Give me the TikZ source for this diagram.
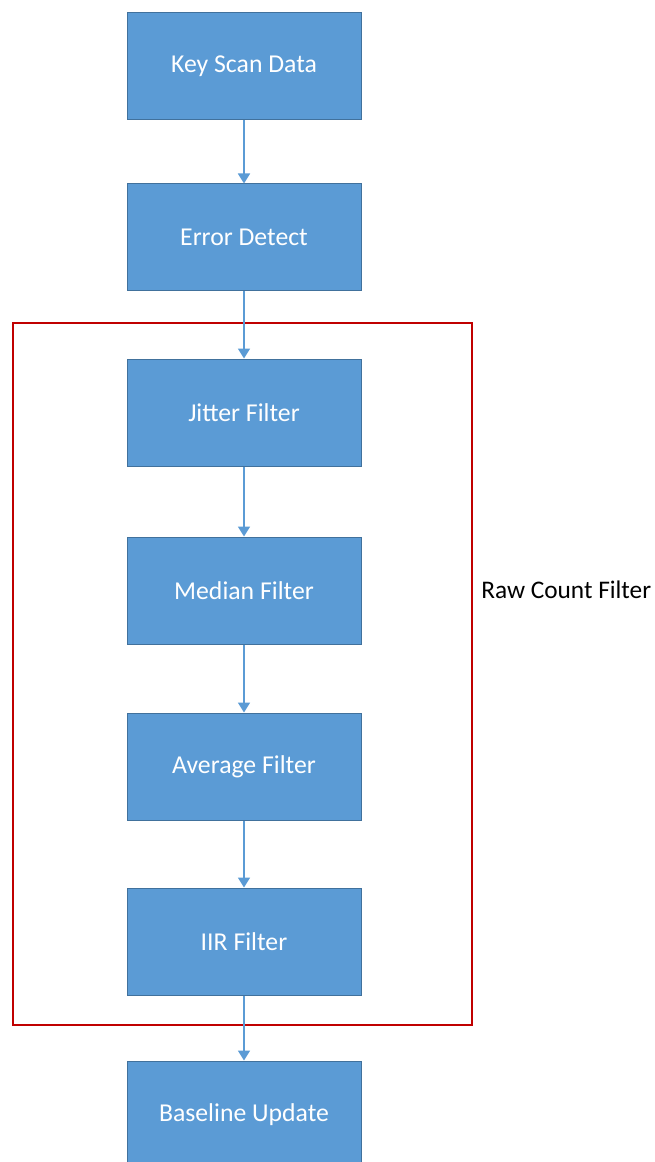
\documentclass[tikz,border=0pt]{standalone}
\usepackage{fontspec}
\setmainfont{Carlito}
\usetikzlibrary{arrows.meta}

\definecolor{boxblue}{HTML}{5B9BD5}
\definecolor{boxedge}{HTML}{41719C}
\definecolor{framered}{HTML}{C00000}

\tikzset{
  stage/.style={draw=boxedge, line width=.75pt, fill=boxblue, text=white,
    minimum width=175.5pt, minimum height=80.25pt, inner sep=0pt,
    font=\fontsize{19.3}{22}\selectfont},
  flow/.style={draw=boxblue, line width=1.3pt, -{Triangle[width=9pt,length=7.5pt]}}
}

\begin{document}
\begin{tikzpicture}[x=.75pt, y=-.75pt]

\useasboundingbox (0,0) rectangle (654,1162) ;

\node [stage] (scan) at (244,66.5) {Key Scan Data} ;
\node [stage] (error) at (244,237.5) {Error Detect} ;
\node [stage] (jitter) at (244,412.5) {Jitter Filter} ;
\node [stage] (median) at (244,590.5) {Median Filter} ;
\node [stage] (average) at (244,766.5) {Average Filter} ;
\node [stage] (iir) at (244,941.5) {IIR Filter} ;
\node [stage] (baseline) at (244,1114.5) {Baseline Update} ;

\draw [framered, line width=2.2pt] (13,323) rectangle (472,1025) ;
\node [anchor=west, inner sep=0pt, font=\fontsize{19}{22}\selectfont] (raw) at (481,590) {Raw Count Filter} ;

\draw [flow] (scan) to (error) ;
\draw [flow] (error) to (jitter) ;
\draw [flow] (jitter) to (median) ;
\draw [flow] (median) to (average) ;
\draw [flow] (average) to (iir) ;
\draw [flow] (iir) to (baseline) ;

\end{tikzpicture}
\end{document}
